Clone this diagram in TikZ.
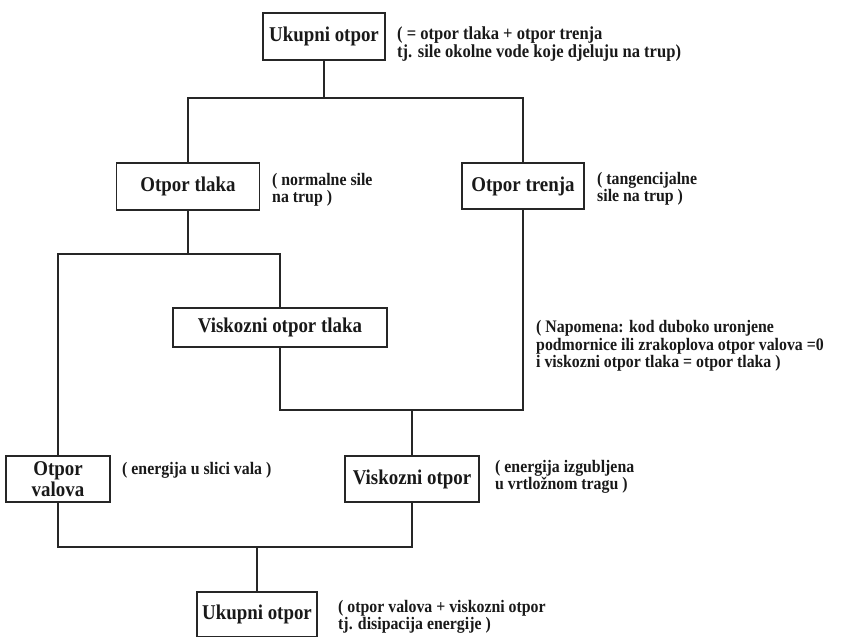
\documentclass[tikz,border=0pt]{standalone}
\usepackage{fontspec}
\setmainfont{Liberation Serif}
\newfontfamily\condserif{Liberation Serif}[FakeStretch=0.9]
\begin{document}
\begin{tikzpicture}[x=1pt,y=-1pt,
  box/.style={draw=black!85, line width=1.4pt, fill=white, text=black!90,
    font=\condserif\bfseries\fontsize{21}{20.5}\selectfont, inner sep=0pt, align=center},
  note/.style={font=\condserif\bfseries\fontsize{17.6}{17.5}\selectfont, text=black!90,
    anchor=west, inner sep=0pt, align=left},
  wire/.style={draw=black!85, line width=1.4pt}]
\useasboundingbox (0,0) rectangle (841,637);
% boxes
\node[box, minimum width=122pt, minimum height=47pt] (top) at (324,36.5) {Ukupni otpor};
\node[box, minimum width=143pt, minimum height=47pt] (tlaka) at (188,186.5) {Otpor tlaka};
\node[box, minimum width=122pt, minimum height=46pt] (trenja) at (523,186) {Otpor trenja};
\node[box, minimum width=214pt, minimum height=39pt] (vtlaka) at (280,327.5) {Viskozni otpor tlaka};
\node[box, minimum width=104pt, minimum height=46pt] (valova) at (58,479) {Otpor\\valova};
\node[box, minimum width=134pt, minimum height=46pt] (vo) at (412,479) {Viskozni otpor};
\node[box, minimum width=120pt, minimum height=45pt] (bot) at (257,614.5) {Ukupni otpor};
% annotations
\node[note, font=\condserif\bfseries\fontsize{18.4}{17.5}\selectfont] (ntop) at (397,44) {( = otpor tlaka + otpor trenja\\tj. sile okolne vode koje djeluju na trup)};
\node[note] (ntlaka) at (272,190) {( normalne sile\\na trup )};
\node[note] (ntrenja) at (597,189) {( tangencijalne\\sile na trup )};
\node[note] (nnap) at (536,346) {( Napomena: kod duboko uronjene\\podmornice ili zrakoplova otpor valova =0\\i viskozni otpor tlaka = otpor tlaka )};
\node[note] (nvalova) at (122,470) {( energija u slici vala )};
\node[note] (nvo) at (495,477) {( energija izgubljena\\u vrtložnom tragu )};
\node[note] (nbot) at (338,617) {( otpor valova + viskozni otpor\\tj. disipacija energije )};
% junction levels
\coordinate (la) at (0,98);
\coordinate (lb) at (0,254);
\coordinate (lc) at (0,410);
\coordinate (ld) at (0,547);
% connectors
\draw[wire] (top.south) -- (top.south |- la);
\draw[wire] (tlaka.north) -- (tlaka.north |- la) -- (trenja.north |- la) -- (trenja.north);
\draw[wire] (tlaka.south) -- (tlaka.south |- lb);
\draw[wire] (valova.north) -- (valova.north |- lb) -- (vtlaka.north |- lb) -- (vtlaka.north);
\draw[wire] (vtlaka.south) -- (vtlaka.south |- lc) -- (trenja.south |- lc) -- (trenja.south);
\draw[wire] (vo.north) -- (vo.north |- lc);
\draw[wire] (valova.south) -- (valova.south |- ld) -- (vo.south |- ld) -- (vo.south);
\draw[wire] (bot.north) -- (bot.north |- ld);
\end{tikzpicture}
\end{document}
